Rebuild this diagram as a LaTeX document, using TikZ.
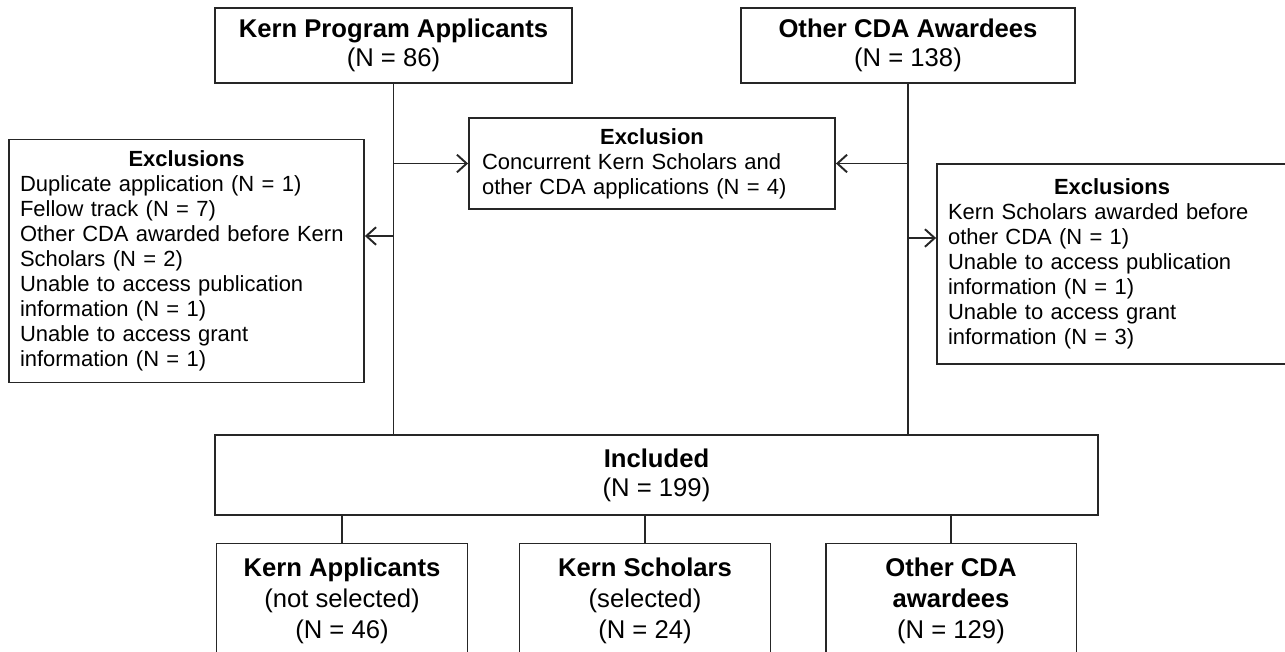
\documentclass[tikz,border=0pt]{standalone}
\usepackage{fontspec}
\setmainfont{Liberation Sans}
\usetikzlibrary{arrows.meta}
\tikzset{
	box/.style={draw=black!85, line width=1.1pt, inner sep=0pt, align=center},
	big/.style={font=\fontsize{14.6}{16.5}\selectfont},
	tall/.style={font=\fontsize{14.6}{17.5}\selectfont},
	small/.style={font=\fontsize{12.5}{14.2}\selectfont},
	link/.style={draw=black!85, line width=1.1pt},
	arr/.style={link, -{Straight Barb[length=5.5pt,width=10pt]}}
}
\begin{document}
\begin{tikzpicture}[x=0.02cm,y=-0.02cm]
		\clip (0,0) rectangle (1285,652);
		\fill[white] (0,0) rectangle (1285,652);
		% sources
		\draw (393.5,45.5) node[box,big,minimum width=7.14cm,minimum height=1.5cm](kern){\textbf{Kern Program Applicants}\\(N = 86)};
		\draw (908,45.5) node[box,big,minimum width=6.68cm,minimum height=1.5cm](cda){\textbf{Other CDA Awardees}\\(N = 138)};
		% exclusions
		\draw (652,163.5) node[box,small,minimum width=7.32cm,minimum height=1.82cm,text width=6.8cm,align=left](excl){\makebox[\linewidth]{\textbf{Exclusion}}\\Concurrent Kern Scholars and\\other CDA applications (N = 4)};
		\draw (186.5,261) node[box,small,minimum width=7.1cm,minimum height=4.86cm,text width=6.66cm,align=left](exkern){\makebox[\linewidth]{\textbf{Exclusions}}\\Duplicate application (N = 1)\\Fellow track (N = 7)\\Other CDA awarded before Kern\\Scholars (N = 2)\\Unable to access publication\\information (N = 1)\\Unable to access grant\\information (N = 1)};
		\draw (1112,264) node[box,small,minimum width=7cm,minimum height=4cm,text width=6.56cm,align=left](excda){\makebox[\linewidth]{\textbf{Exclusions}}\\Kern Scholars awarded before\\other CDA (N = 1)\\Unable to access publication\\information (N = 1)\\Unable to access grant\\information (N = 3)};
		% included
		\draw (656.5,475) node[box,big,minimum width=17.66cm,minimum height=1.6cm](inc){\textbf{Included}\\(N = 199)};
		\draw (342,601) node[box,tall,minimum width=5.02cm,minimum height=2.3cm](kapp){\textbf{Kern Applicants}\\(not selected)\\(N = 46)};
		\draw (645,601) node[box,tall,minimum width=5.02cm,minimum height=2.3cm](ksch){\textbf{Kern Scholars}\\(selected)\\(N = 24)};
		\draw (951,601) node[box,tall,minimum width=5.02cm,minimum height=2.3cm](ocda){\textbf{Other CDA}\\\textbf{awardees}\\(N = 129)};
		% connectors
		\coordinate (kl) at (393.5,236);
		\coordinate (cl) at (908,238);
		\draw[link] (kern.south) -- (kern.south |- inc.north) (cda.south) -- (cda.south |- inc.north);
		\draw[arr] (kern.south |- excl.west) -- (excl.west);
		\draw[arr] (cda.south |- excl.east) -- (excl.east);
		\draw[arr] (kl) -- (kl -| exkern.east);
		\draw[arr] (cl) -- (cl -| excda.west);
		\draw[link] (inc.south -| kapp.north) -- (kapp.north) (inc.south -| ksch.north) -- (ksch.north) (inc.south -| ocda.north) -- (ocda.north);
	\end{tikzpicture}
\end{document}
